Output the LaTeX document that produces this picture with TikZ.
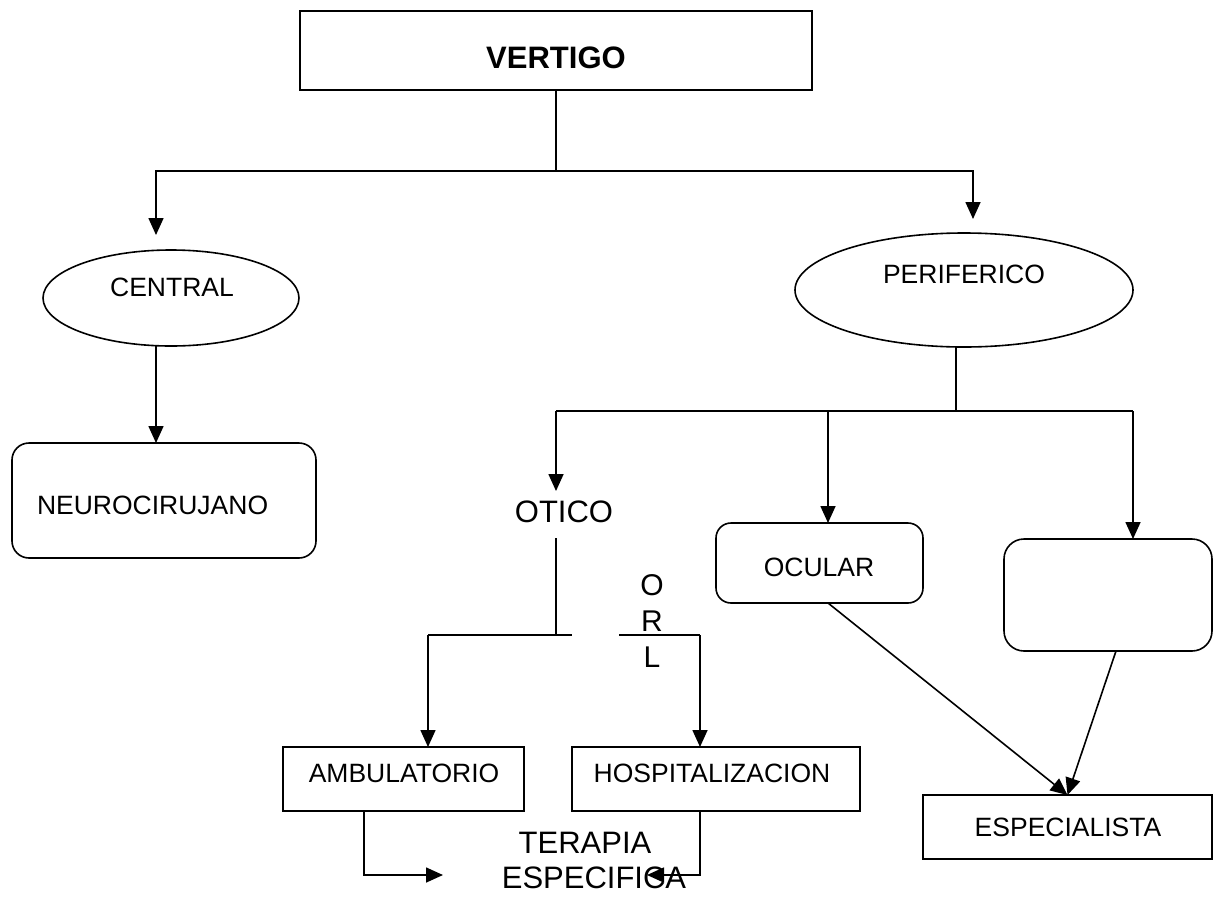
\documentclass[tikz,border=0pt]{standalone}
\usepackage{fontspec}
\setmainfont{Liberation Sans}
\usetikzlibrary{arrows.meta,shapes.geometric,calc}
\newcommand\txtS{\fontsize{26.5}{32}\selectfont}
\newcommand\txtL{\fontsize{31}{36}\selectfont}
\newcommand\txtB{\fontsize{31}{36}\selectfont\bfseries}
\begin{document}
\begin{tikzpicture}[x=1pt,y=-1pt,
  every node/.style={inner sep=0pt,outer sep=0pt},
  line/.style={line width=1.6pt},
  arr/.style={line width=1.6pt,-{Triangle[length=17pt,width=15pt]}},
  box/.style={draw,line width=1.6pt,anchor=north west,rectangle},
  rbox/.style={box,rounded corners=#1},
  ell/.style={draw,line width=1.6pt,ellipse},
  lbl/.style={font=\txtS},
  big/.style={font=\txtL}]
\useasboundingbox (0,0) rectangle (1213,900);

% title
\node[box,minimum width=512pt,minimum height=79pt] (vert) at (300,11) {};
\node[font=\txtB] (tvert) at (556,58) {VERTIGO};

% first level
\node[ell,minimum width=256pt,minimum height=96pt] (central) at (171,298) {};
\node[lbl] (tcentral) at (172,287) {CENTRAL};
\node[ell,minimum width=338pt,minimum height=114pt] (perif) at (964,290) {};
\node[lbl] (tperif) at (964,274) {PERIFERICO};

\coordinate (j0) at (556,171);
\coordinate (tc) at (156,235);
\coordinate (tp) at (973,219);
\draw[line] (vert.south) -- (j0);
\draw[arr] (j0) -| (tc);
\draw[arr] (j0) -| (tp);

% central branch
\node[rbox=17pt,minimum width=304pt,minimum height=115pt] (neuro) at (12,443) {};
\node[lbl,anchor=west] (tneuro) at (37,505) {NEUROCIRUJANO};
\draw[arr] ($(central.south)+(-15,0)$) -- ($(neuro.north)+(-8,0)$);

% peripheral branch
\node[big] (otico) at (564,512) {OTICO};
\node[rbox=15pt,minimum width=207pt,minimum height=80pt] (ocular) at (716,523) {};
\node[lbl] (tocular) at (819,567) {OCULAR};
\node[rbox=20pt,minimum width=208pt,minimum height=112pt] (blank) at (1004,539) {};

\coordinate (j1) at (956,411);
\coordinate (jl) at (556,411);
\coordinate (jo) at (828,411);
\coordinate (jr) at (1133,411);
\draw[line] ($(perif.south)+(-8,0)$) -- (j1);
\draw[line] (jl) -- (jr);
\draw[arr,shorten >=10pt] (jl) -- (jl |- otico.north);
\draw[arr] (jo) -- (jo |- ocular.north);
\draw[arr] (jr) -- (jr |- blank.north);

% otic branch
\coordinate (o1) at (556,538);
\coordinate (ob) at (556,635);
\coordinate (al) at (428,635);
\coordinate (g1) at (572,635);
\coordinate (g2) at (619,635);
\coordinate (hr) at (700,635);
\draw[line] (o1) -- (ob);
\draw[line] (al) -- (g1);
\draw[line] (g2) -- (hr);
\node[font=\fontsize{30}{36}\selectfont,align=center] (orl) at (652,621) {O\\R\\L};

\node[box,minimum width=241pt,minimum height=64pt] (ambu) at (283,747) {};
\node[lbl] (tambu) at (404,773) {AMBULATORIO};
\node[box,minimum width=288pt,minimum height=64pt] (hosp) at (572,747) {};
\node[lbl] (thosp) at (712,773) {HOSPITALIZACION};
\draw[arr] (al) -- (al |- ambu.north);
\draw[arr] (hr) -- (hr |- hosp.north);

\node[big] (ter1) at (585,843) {TERAPIA};
\node[big] (ter2) at (594,878) {ESPECIFICA};
\coordinate (ad) at (364,875);
\coordinate (ta) at (443,875);
\coordinate (th) at (647,875);
\draw[arr] (ambu.south -| ad) |- (ta);
\draw[arr] (hosp.south -| hr) |- (th);

% specialist
\node[box,minimum width=289pt,minimum height=64pt] (esp) at (923,795) {};
\node[lbl] (tesp) at (1068,827) {ESPECIALISTA};
\draw[arr] (ocular.south -| jo) -- (esp.north);
\draw[arr] ($(blank.south)+(8,0)$) -- (esp.north);
\end{tikzpicture}
\end{document}
